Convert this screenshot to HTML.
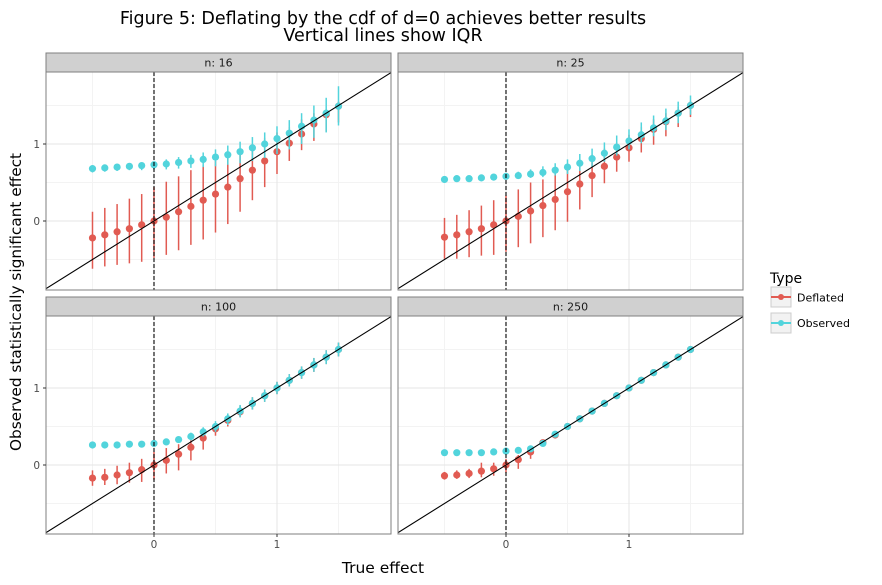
<!DOCTYPE html>
<html><head><meta charset="utf-8"><style>
html,body{margin:0;padding:0;background:#fff}
svg{display:block;font-family:"DejaVu Sans","Liberation Sans",sans-serif}
</style></head><body>
<svg id="c" width="882" height="585" xmlns="http://www.w3.org/2000/svg">
<text x="383" y="24" font-size="17.5" text-anchor="middle">Figure 5: Deflating by the cdf of d=0 achieves better results</text>
<text x="383" y="41" font-size="17.5" text-anchor="middle">Vertical lines show IQR</text>
<text x="383" y="573" font-size="15.5" text-anchor="middle">True effect</text>
<text x="21" y="302" font-size="15.3" text-anchor="middle" transform="rotate(-90 21 302)">Observed statistically significant effect</text>
<g>
<text x="770" y="283" font-size="14">Type</text>
<g>
<rect x="771" y="287" width="20" height="20" fill="#f2f2f2" stroke="#ccc"/>
<line x1="771" y1="297" x2="791" y2="297" stroke="#e15b52" stroke-width="2"/>
<circle cx="781" cy="297" r="3" fill="#e15b52"/>
<text x="797" y="301.5" font-size="11">Deflated</text></g>
<g>
<rect x="771" y="313" width="20" height="20" fill="#f2f2f2" stroke="#ccc"/>
<line x1="771" y1="323" x2="791" y2="323" stroke="#52d4dc" stroke-width="2"/>
<circle cx="781" cy="323" r="3" fill="#52d4dc"/>
<text x="797" y="327" font-size="11">Observed</text></g>
</g>
</svg>
<script>
const xs=[-0.5,-0.4,-0.3,-0.2,-0.1,0,0.1,0.2,0.3,0.4,0.5,0.6,0.7,0.8,0.9,1.0,1.1,1.2,1.3,1.4,1.5];
const panelLabels=["n: 16","n: 25","n: 100","n: 250"];
const xTicks=[0,1];
const yTicks=[0,1];
// n=16
const def16=[-0.22,-0.18,-0.14,-0.10,-0.05,0,0.05,0.12,0.19,0.27,0.35,0.44,0.55,0.66,0.78,0.90,1.01,1.13,1.26,1.38,1.49];
const def16Lo=[-0.62,-0.59,-0.57,-0.55,-0.53,-0.48,-0.44,-0.38,-0.31,-0.24,-0.15,-0.04,0.12,0.27,0.44,0.61,0.78,0.92,1.04,1.16,1.28];
const def16Hi=[0.12,0.17,0.22,0.29,0.35,0.44,0.51,0.58,0.66,0.72,0.78,0.85,0.92,1.00,1.08,1.15,1.22,1.32,1.40,1.45,1.55];
const obs16=[0.68,0.69,0.70,0.71,0.72,0.73,0.74,0.76,0.78,0.80,0.83,0.86,0.90,0.95,1.00,1.07,1.14,1.23,1.31,1.40,1.49];
const obs16Lo=[0.63,0.64,0.65,0.66,0.66,0.67,0.67,0.68,0.69,0.70,0.71,0.73,0.75,0.78,0.82,0.87,0.93,1.00,1.08,1.15,1.24];
const obs16Hi=[0.70,0.71,0.73,0.74,0.76,0.77,0.80,0.83,0.86,0.89,0.93,0.98,1.03,1.09,1.15,1.23,1.31,1.40,1.50,1.60,1.75];
// n=25
const def25=[-0.21,-0.18,-0.14,-0.10,-0.05,0,0.06,0.13,0.20,0.28,0.38,0.48,0.59,0.71,0.83,0.95,1.07,1.19,1.29,1.40,1.50];
const def25Lo=[-0.49,-0.49,-0.47,-0.45,-0.44,-0.40,-0.34,-0.29,-0.21,-0.12,-0.01,0.15,0.31,0.49,0.64,0.77,0.89,0.99,1.10,1.22,1.35];
const def25Hi=[0.04,0.08,0.14,0.20,0.27,0.33,0.41,0.50,0.54,0.62,0.70,0.78,0.86,0.94,1.02,1.12,1.22,1.32,1.40,1.48,1.56];
const obs25=[0.54,0.55,0.55,0.56,0.57,0.58,0.59,0.61,0.63,0.66,0.70,0.75,0.81,0.88,0.96,1.04,1.12,1.21,1.30,1.40,1.50];
const obs25Lo=[0.51,0.52,0.52,0.53,0.53,0.54,0.55,0.56,0.57,0.59,0.61,0.65,0.70,0.77,0.85,0.93,1.01,1.10,1.18,1.27,1.38];
const obs25Hi=[0.55,0.56,0.57,0.58,0.60,0.62,0.64,0.67,0.71,0.75,0.80,0.87,0.94,1.02,1.11,1.19,1.28,1.37,1.46,1.55,1.63];
// n=100
const def100=[-0.17,-0.16,-0.13,-0.10,-0.06,0,0.06,0.14,0.23,0.35,0.47,0.58,0.69,0.80,0.90,1.00,1.10,1.20,1.30,1.40,1.50];
const def100Lo=[-0.27,-0.26,-0.25,-0.23,-0.22,-0.19,-0.11,-0.07,0.06,0.20,0.38,0.50,0.62,0.72,0.82,0.92,1.02,1.12,1.21,1.31,1.41];
const def100Hi=[-0.07,-0.05,-0.01,0.03,0.08,0.17,0.22,0.27,0.32,0.40,0.52,0.66,0.77,0.88,0.98,1.08,1.18,1.28,1.39,1.49,1.59];
const obs100=[0.26,0.26,0.26,0.27,0.27,0.28,0.30,0.33,0.37,0.43,0.50,0.60,0.70,0.80,0.90,1.00,1.10,1.20,1.30,1.40,1.50];
const obs100Lo=[0.25,0.25,0.25,0.26,0.26,0.26,0.27,0.29,0.32,0.37,0.43,0.52,0.62,0.72,0.82,0.92,1.02,1.12,1.21,1.31,1.41];
const obs100Hi=[0.27,0.27,0.28,0.28,0.29,0.31,0.33,0.37,0.42,0.49,0.57,0.67,0.78,0.88,0.98,1.08,1.18,1.28,1.39,1.49,1.59];
// n=250
const def250=[-0.14,-0.13,-0.11,-0.08,-0.05,0,0.07,0.17,0.29,0.39,0.50,0.60,0.70,0.80,0.90,1.00,1.10,1.20,1.30,1.40,1.50];
const def250Lo=[-0.19,-0.18,-0.17,-0.16,-0.14,-0.10,-0.05,0.08,0.25,0.36,0.47,0.57,0.67,0.77,0.87,0.97,1.07,1.17,1.27,1.37,1.47];
const def250Hi=[-0.09,-0.07,-0.05,0.03,0.03,0.08,0.13,0.25,0.33,0.43,0.53,0.63,0.73,0.83,0.93,1.03,1.13,1.23,1.33,1.43,1.53];
const obs250=[0.16,0.16,0.16,0.16,0.17,0.18,0.19,0.21,0.28,0.40,0.50,0.60,0.70,0.80,0.90,1.00,1.10,1.20,1.30,1.40,1.50];
const obs250Lo=[0.15,0.15,0.15,0.15,0.16,0.17,0.18,0.19,0.25,0.36,0.46,0.56,0.66,0.76,0.86,0.96,1.06,1.16,1.26,1.36,1.46];
const obs250Hi=[0.17,0.17,0.17,0.17,0.18,0.19,0.20,0.23,0.31,0.44,0.54,0.64,0.74,0.84,0.94,1.04,1.14,1.24,1.34,1.44,1.54];

const panels=[
 {label:panelLabels[0],x0:46,y0:72,d:def16,dl:def16Lo,dh:def16Hi,o:obs16,ol:obs16Lo,oh:obs16Hi,left:true,bottom:false},
 {label:panelLabels[1],x0:398,y0:72,d:def25,dl:def25Lo,dh:def25Hi,o:obs25,ol:obs25Lo,oh:obs25Hi,left:false,bottom:false},
 {label:panelLabels[2],x0:46,y0:316,d:def100,dl:def100Lo,dh:def100Hi,o:obs100,ol:obs100Lo,oh:obs100Hi,left:true,bottom:true},
 {label:panelLabels[3],x0:398,y0:316,d:def250,dl:def250Lo,dh:def250Hi,o:obs250,ol:obs250Lo,oh:obs250Hi,left:false,bottom:true}
];
const NS="http://www.w3.org/2000/svg";
const svg=document.getElementById('c');
const W=345,H=218,XMIN=-0.878,YMAX=1.935,PX=123,PY=77;
function mk(tag,attrs,parent){const e=document.createElementNS(NS,tag);for(const k in attrs)e.setAttribute(k,attrs[k]);parent.appendChild(e);return e;}
panels.forEach((p,pi)=>{
 const sx=v=>p.x0+(v-XMIN)*PX;
 const sy=v=>p.y0+(YMAX-v)*PY;
 const g=mk('g',{},svg);
 
 
 const strip=mk('rect',{x:p.x0,y:p.y0-19,width:W,height:19,fill:'#d0d0d0',stroke:'#7f7f7f','stroke-width':1},g);
 
 
 const st=mk('text',{x:p.x0+W/2,y:p.y0-5.5,'font-size':11,'text-anchor':'middle',fill:'#1a1a1a'},g);
 st.textContent=p.label;
 
 
 const cp='cp'+pi;
 const defs=mk('defs',{},g);const clip=mk('clipPath',{id:cp},defs);mk('rect',{x:p.x0,y:p.y0,width:W,height:H},clip);
 const inner=mk('g',{'clip-path':'url(#'+cp+')'},g);
 [-0.5,0.5,1.5].forEach(v=>{mk('line',{x1:sx(v),x2:sx(v),y1:p.y0,y2:p.y0+H,stroke:'#f3f3f3','stroke-width':1},inner);mk('line',{x1:p.x0,x2:p.x0+W,y1:sy(v),y2:sy(v),stroke:'#f3f3f3','stroke-width':1},inner);});
 [0,1].forEach(v=>{mk('line',{x1:sx(v),x2:sx(v),y1:p.y0,y2:p.y0+H,stroke:'#e6e6e6','stroke-width':1},inner);mk('line',{x1:p.x0,x2:p.x0+W,y1:sy(v),y2:sy(v),stroke:'#e6e6e6','stroke-width':1},inner);});
 const series=[['deflated','#e15b52',p.d,p.dl,p.dh],['observed','#52d4dc',p.o,p.ol,p.oh]];
 series.forEach(s=>{
  s[2].forEach((m,i)=>{
   const ln=mk('line',{x1:sx(xs[i]),x2:sx(xs[i]),y1:sy(s[3][i]),y2:sy(s[4][i]),stroke:s[1],'stroke-width':1.5},inner);
   
   
   const c=mk('circle',{cx:sx(xs[i]),cy:sy(m),r:3.6,fill:s[1]},inner);
   
   
  });
 });
 const diag=mk('line',{x1:sx(XMIN),y1:sy(XMIN),x2:sx(YMAX),y2:sy(YMAX),stroke:'#000','stroke-width':1.1},inner);
 
 
 const vl=mk('line',{x1:sx(0),x2:sx(0),y1:p.y0,y2:p.y0+H,stroke:'#000','stroke-width':1.1,'stroke-dasharray':'4,2'},inner);
 
 
 mk('rect',{x:p.x0,y:p.y0,width:W,height:H,fill:'none',stroke:'#7f7f7f','stroke-width':1},g);
 if(p.left){yTicks.forEach(v=>{mk('line',{x1:p.x0-3,x2:p.x0,y1:sy(v),y2:sy(v),stroke:'#333'},g);
  const t=mk('text',{x:p.x0-6,y:sy(v)+4,'font-size':10.5,'text-anchor':'end',fill:'#4d4d4d'},g);t.textContent=v;
  
  });}
 if(p.bottom){xTicks.forEach(v=>{mk('line',{x1:sx(v),x2:sx(v),y1:p.y0+H,y2:p.y0+H+3,stroke:'#333'},g);
  const t=mk('text',{x:sx(v),y:p.y0+H+14,'font-size':10.5,'text-anchor':'middle',fill:'#4d4d4d'},g);t.textContent=v;
  
  });}
});
</script>
</body></html>
